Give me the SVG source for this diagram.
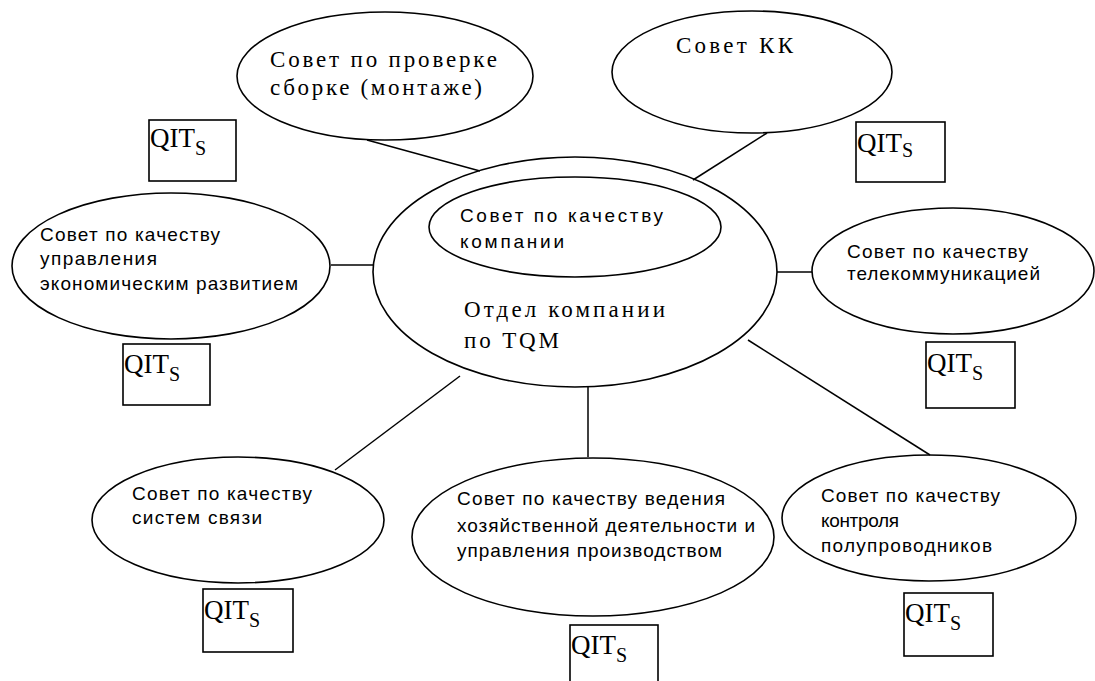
<svg xmlns="http://www.w3.org/2000/svg" width="1095" height="681" viewBox="0 0 1095 681">
  <style>
    .shape { fill: none; stroke: #000; stroke-width: 1.6; }
    .link { stroke: #000; stroke-width: 1.5; fill: none; }
    .sans { font-family: "Liberation Sans", Arial, sans-serif; font-size: 19px; fill: #000; }
    .serif { font-family: "Liberation Serif", "Times New Roman", serif; font-size: 23px; fill: #000; }
    .qit { font-family: "Liberation Serif", "Times New Roman", serif; font-size: 27px; fill: #000; }
    .sub { font-size: 20px; }
  </style>
  <rect width="1095" height="681" fill="#fff"/>

  <!-- connectors -->
  <g id="connectors">
    <line class="link" x1="367" y1="140" x2="480" y2="171"/>
    <line class="link" x1="767" y1="133" x2="693" y2="180"/>
    <line class="link" x1="331" y1="265" x2="374" y2="265"/>
    <line class="link" x1="777" y1="272" x2="812" y2="272"/>
    <line class="link" x1="335" y1="470" x2="460" y2="376"/>
    <line class="link" x1="588" y1="386" x2="588" y2="457"/>
    <line class="link" x1="748" y1="340" x2="930" y2="455"/>
  </g>

  <!-- central department with the company quality council inside -->
  <g id="tqm-department">
    <ellipse class="shape" cx="575" cy="272" rx="202" ry="115"/>
    <text class="serif" x="464" y="317" font-size="26" textLength="201" lengthAdjust="spacing">Отдел компании</text>
    <text class="serif" x="464" y="348" font-size="26" textLength="95" lengthAdjust="spacing">по TQM</text>
  </g>
  <g id="company-council">
    <ellipse class="shape" cx="575" cy="227" rx="146" ry="50"/>
    <text class="sans" x="460" y="222" font-size="22" textLength="203" lengthAdjust="spacing">Совет по качеству</text>
    <text class="sans" x="460" y="248" font-size="22" textLength="104" lengthAdjust="spacing">компании</text>
  </g>

  <g id="assembly-council">
    <ellipse class="shape" cx="385" cy="76" rx="148" ry="64"/>
    <text class="serif" x="270" y="67" textLength="227" lengthAdjust="spacing">Совет по проверке</text>
    <text class="serif" x="270" y="95" textLength="212" lengthAdjust="spacing">сборке (монтаже)</text>
  </g>

  <g id="kk-council">
    <ellipse class="shape" cx="752" cy="72" rx="140" ry="61"/>
    <text class="serif" x="676" y="53" font-size="25" textLength="117" lengthAdjust="spacing">Совет КК</text>
  </g>

  <g id="economic-council">
    <ellipse class="shape" cx="171" cy="266" rx="159" ry="73"/>
    <text class="sans" x="40" y="241" textLength="180" lengthAdjust="spacing">Совет по качеству</text>
    <text class="sans" x="40" y="265" textLength="117" lengthAdjust="spacing">управления</text>
    <text class="sans" x="40" y="290" textLength="258" lengthAdjust="spacing">экономическим развитием</text>
  </g>

  <g id="telecom-council">
    <ellipse class="shape" cx="953" cy="271" rx="141" ry="63"/>
    <text class="sans" x="847" y="258" textLength="181" lengthAdjust="spacing">Совет по качеству</text>
    <text class="sans" x="847" y="280" textLength="193" lengthAdjust="spacing">телекоммуникацией</text>
  </g>

  <g id="comms-council">
    <ellipse class="shape" cx="238" cy="520" rx="146" ry="63"/>
    <text class="sans" x="132" y="500" textLength="180" lengthAdjust="spacing">Совет по качеству</text>
    <text class="sans" x="132" y="524" textLength="130" lengthAdjust="spacing">систем связи</text>
  </g>

  <g id="business-council">
    <ellipse class="shape" cx="593" cy="537" rx="181" ry="79"/>
    <text class="sans" x="457" y="505" textLength="268" lengthAdjust="spacing">Совет по качеству ведения</text>
    <text class="sans" x="457" y="532" textLength="298" lengthAdjust="spacing">хозяйственной деятельности и</text>
    <text class="sans" x="457" y="557" textLength="265" lengthAdjust="spacing">управления производством</text>
  </g>

  <g id="semiconductor-council">
    <ellipse class="shape" cx="929" cy="518" rx="147" ry="63"/>
    <text class="sans" x="821" y="502" textLength="179" lengthAdjust="spacing">Совет по качеству</text>
    <text class="sans" x="821" y="527" textLength="78" lengthAdjust="spacing">контроля</text>
    <text class="sans" x="821" y="552" textLength="171" lengthAdjust="spacing">полупроводников</text>
  </g>

  <!-- quality improvement team boxes -->
  <g id="qit-1">
    <rect class="shape" x="149" y="120" width="87" height="61"/>
    <text class="qit" x="150" y="147">QIT<tspan class="sub" dy="8">S</tspan></text>
  </g>
  <g id="qit-2">
    <rect class="shape" x="856" y="122" width="89" height="60"/>
    <text class="qit" x="857" y="152">QIT<tspan class="sub" dy="5">S</tspan></text>
  </g>
  <g id="qit-3">
    <rect class="shape" x="123" y="344" width="87" height="61"/>
    <text class="qit" x="124" y="373">QIT<tspan class="sub" dy="8">S</tspan></text>
  </g>
  <g id="qit-4">
    <rect class="shape" x="926" y="342" width="89" height="66"/>
    <text class="qit" x="927" y="372">QIT<tspan class="sub" dy="8">S</tspan></text>
  </g>
  <g id="qit-5">
    <rect class="shape" x="203" y="589" width="90" height="63"/>
    <text class="qit" x="204" y="619">QIT<tspan class="sub" dy="8">S</tspan></text>
  </g>
  <g id="qit-6">
    <rect class="shape" x="570" y="625" width="88" height="62"/>
    <text class="qit" x="571" y="654">QIT<tspan class="sub" dy="8">S</tspan></text>
  </g>
  <g id="qit-7">
    <rect class="shape" x="904" y="593" width="89" height="63"/>
    <text class="qit" x="905" y="622">QIT<tspan class="sub" dy="8">S</tspan></text>
  </g>
</svg>
